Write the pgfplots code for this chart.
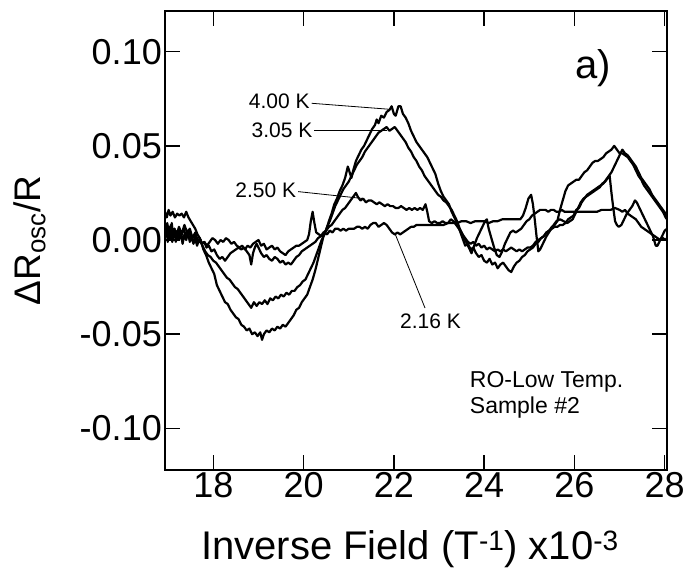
\documentclass[border=0pt]{standalone}
\usepackage{fontspec}
\setmainfont{Liberation Sans}
\usepackage{pgfplots}
\pgfplotsset{compat=1.18}
\begin{document}
\begin{tikzpicture}
\begin{axis}[
 at={(0pt,0pt)}, anchor=south west,
 width=502pt, height=459pt, scale only axis,
 xmin=16.93, xmax=28.05, ymin=-0.1221, ymax=0.1216,
 xtick={18,20,...,28}, ytick={-0.1,-0.05,0,0.05,0.1},
 minor tick num=0,
 tick align=inside, major tick length=15pt,
 axis line style={line width=1.5pt},
 every tick/.style={black, line width=1.5pt},
 xticklabel style={font=\fontsize{36}{38}\selectfont, inner sep=2pt},
 yticklabel style={font=\fontsize{36}{38}\selectfont, inner sep=3pt, /pgf/number format/.cd, fixed, fixed zerofill, precision=2},
 /pgf/number format/assume math mode=true,
 scaled y ticks=false,
 xlabel={Inverse Field (T\textsuperscript{-1}) x10\textsuperscript{-3}},
 ylabel={ΔR\textsubscript{osc}/R},
 every axis x label/.style={at={(axis description cs:0.488,-0.172)}, anchor=center, font=\fontsize{40}{42}\selectfont},
 every axis y label/.style={at={(axis description cs:-0.27,0.5)}, anchor=center, rotate=90, font=\fontsize{37}{39}\selectfont},
]
% 4.00 K
\addplot[black, no marks, line width=2.2pt, line join=round] table {
16.93 0.004
16.98 0.009
17.02 0.003
17.06 0.008
17.10 0.001
17.14 0.006
17.18 0.002
17.24 0.007
17.30 0.003
17.36 0.008
17.42 0.004
17.48 0.006
17.54 0.001
17.60 0.004
17.66 -0.001
17.72 0.000
17.78 -0.005
17.84 -0.008
17.90 -0.012
17.96 -0.015
18.02 -0.018
18.08 -0.024
18.14 -0.027
18.20 -0.030
18.26 -0.033
18.32 -0.034
18.38 -0.037
18.44 -0.039
18.50 -0.041
18.56 -0.042
18.62 -0.045
18.68 -0.046
18.74 -0.048
18.80 -0.047
18.86 -0.050
18.92 -0.049
18.98 -0.051
19.04 -0.049
19.08 -0.053
19.12 -0.050
19.18 -0.048
19.24 -0.049
19.30 -0.047
19.36 -0.048
19.42 -0.046
19.48 -0.047
19.54 -0.045
19.60 -0.046
19.66 -0.044
19.72 -0.042
19.78 -0.040
19.84 -0.037
19.90 -0.036
19.96 -0.033
20.02 -0.031
20.08 -0.029
20.14 -0.025
20.20 -0.021
20.26 -0.016
20.32 -0.010
20.38 -0.004
20.44 0.002
20.50 0.005
20.56 0.010
20.62 0.014
20.68 0.019
20.74 0.022
20.80 0.026
20.86 0.029
20.92 0.033
20.98 0.039
21.02 0.036
21.06 0.033
21.10 0.037
21.16 0.042
21.22 0.045
21.28 0.048
21.34 0.050
21.40 0.053
21.46 0.056
21.52 0.059
21.58 0.061
21.62 0.064
21.66 0.062
21.72 0.066
21.78 0.065
21.84 0.068
21.90 0.069
21.95 0.071
22.00 0.067
22.04 0.066
22.10 0.071
22.15 0.071
22.20 0.067
22.26 0.065
22.32 0.062
22.38 0.058
22.44 0.055
22.50 0.052
22.56 0.050
22.62 0.048
22.68 0.046
22.74 0.044
22.80 0.041
22.86 0.038
22.92 0.035
22.98 0.030
23.04 0.026
23.10 0.023
23.16 0.021
23.22 0.019
23.28 0.015
23.34 0.012
23.40 0.009
23.46 0.005
23.52 0.001
23.58 -0.003
23.64 -0.002
23.70 -0.005
23.76 -0.004
23.82 -0.007
23.88 -0.009
23.94 -0.008
24.00 -0.011
24.06 -0.012
24.12 -0.010
24.18 -0.013
24.24 -0.012
24.30 -0.015
24.36 -0.013
24.42 -0.012
24.48 -0.014
24.54 -0.016
24.60 -0.017
24.66 -0.014
24.72 -0.012
24.78 -0.011
24.84 -0.009
24.90 -0.008
24.96 -0.006
25.02 -0.005
25.08 -0.004
25.14 -0.002
25.20 -0.001
25.26 0.001
25.32 0.002
25.38 0.004
25.44 0.005
25.50 0.007
25.56 0.008
25.62 0.010
25.68 0.016
25.74 0.021
25.80 0.026
25.86 0.029
25.92 0.030
25.98 0.031
26.04 0.032
26.10 0.032
26.16 0.034
26.22 0.036
26.28 0.037
26.34 0.039
26.40 0.041
26.46 0.042
26.52 0.042
26.58 0.043
26.64 0.044
26.70 0.046
26.76 0.047
26.82 0.048
26.88 0.050
26.94 0.048
27.00 0.046
27.06 0.046
27.12 0.045
27.18 0.044
27.24 0.042
27.30 0.040
27.36 0.037
27.42 0.034
27.48 0.032
27.54 0.029
27.60 0.027
27.66 0.025
27.72 0.023
27.78 0.021
27.84 0.019
27.90 0.017
27.96 0.015
28.02 0.012
28.05 0.011
};
% 3.05 K
\addplot[black, no marks, line width=2.2pt, line join=round] table {
16.93 0.002
16.97 0.006
17.01 0.000
17.05 0.005
17.09 -0.001
17.13 0.004
17.18 0.000
17.23 0.005
17.28 0.001
17.34 0.006
17.40 0.002
17.46 0.005
17.52 0.000
17.58 0.003
17.64 -0.002
17.70 0.001
17.76 -0.003
17.82 -0.006
17.88 -0.008
17.94 -0.009
18.00 -0.011
18.06 -0.012
18.12 -0.014
18.18 -0.016
18.24 -0.018
18.30 -0.020
18.36 -0.021
18.42 -0.023
18.48 -0.025
18.54 -0.026
18.60 -0.028
18.66 -0.030
18.72 -0.032
18.78 -0.034
18.84 -0.036
18.90 -0.033
18.96 -0.035
19.02 -0.033
19.08 -0.034
19.14 -0.032
19.20 -0.034
19.26 -0.031
19.32 -0.032
19.38 -0.030
19.44 -0.031
19.50 -0.029
19.56 -0.030
19.62 -0.028
19.68 -0.029
19.74 -0.027
19.80 -0.027
19.86 -0.025
19.92 -0.024
19.98 -0.022
20.04 -0.021
20.10 -0.018
20.16 -0.015
20.22 -0.012
20.28 -0.008
20.34 -0.004
20.40 0.000
20.46 0.003
20.52 0.007
20.58 0.010
20.64 0.014
20.70 0.018
20.76 0.021
20.82 0.024
20.88 0.027
20.94 0.029
21.00 0.031
21.06 0.034
21.12 0.037
21.18 0.040
21.24 0.042
21.30 0.044
21.36 0.047
21.42 0.049
21.48 0.051
21.54 0.053
21.60 0.055
21.66 0.057
21.72 0.058
21.78 0.059
21.84 0.060
21.90 0.058
21.96 0.059
22.02 0.060
22.08 0.058
22.14 0.056
22.20 0.054
22.26 0.052
22.32 0.049
22.38 0.047
22.44 0.044
22.50 0.042
22.56 0.039
22.62 0.037
22.68 0.034
22.74 0.032
22.80 0.030
22.86 0.028
22.92 0.026
22.98 0.024
23.04 0.023
23.10 0.021
23.16 0.020
23.22 0.018
23.28 0.016
23.34 0.013
23.40 0.010
23.46 0.006
23.52 0.003
23.58 0.001
23.64 -0.001
23.70 -0.002
23.76 -0.001
23.82 -0.003
23.88 -0.002
23.94 -0.004
24.00 -0.003
24.06 -0.005
24.12 -0.004
24.18 -0.005
24.24 -0.006
24.30 -0.005
24.36 -0.006
24.42 -0.005
24.48 -0.006
24.54 -0.005
24.60 -0.004
24.66 -0.005
24.72 -0.006
24.78 -0.005
24.84 -0.006
24.90 -0.005
24.96 -0.004
25.02 -0.004
25.08 -0.003
25.14 -0.001
25.20 0.000
25.26 0.001
25.32 0.002
25.38 0.004
25.44 0.005
25.50 0.006
25.56 0.007
25.62 0.007
25.68 0.008
25.74 0.008
25.80 0.009
25.86 0.011
25.92 0.012
25.98 0.013
26.04 0.016
26.10 0.017
26.16 0.020
26.22 0.022
26.28 0.024
26.34 0.025
26.40 0.026
26.46 0.027
26.52 0.028
26.58 0.029
26.64 0.030
26.70 0.032
26.76 0.034
26.82 0.036
26.88 0.039
26.94 0.042
27.00 0.045
27.06 0.048
27.12 0.046
27.18 0.045
27.24 0.043
27.30 0.041
27.36 0.039
27.42 0.036
27.48 0.033
27.54 0.031
27.60 0.029
27.66 0.027
27.72 0.024
27.78 0.022
27.84 0.020
27.90 0.018
27.96 0.016
28.02 0.014
28.05 0.013
};
% 2.50 K
\addplot[black, no marks, line width=2.2pt, line join=round] table {
16.93 0.015
16.97 0.012
17.01 0.016
17.05 0.013
17.10 0.015
17.15 0.012
17.20 0.014
17.25 0.013
17.30 0.014
17.35 0.012
17.40 0.015
17.45 0.012
17.50 0.010
17.55 0.008
17.60 0.006
17.65 0.003
17.70 0.001
17.75 -0.002
17.80 -0.001
17.85 -0.004
17.90 -0.003
17.96 -0.006
18.02 -0.005
18.08 -0.008
18.14 -0.010
18.20 -0.009
18.26 -0.011
18.32 -0.009
18.38 -0.007
18.44 -0.006
18.50 -0.005
18.56 -0.004
18.62 -0.005
18.68 -0.004
18.74 -0.006
18.80 -0.008
18.84 -0.013
18.88 -0.007
18.92 -0.004
18.96 -0.002
19.00 -0.004
19.06 -0.007
19.12 -0.009
19.18 -0.008
19.24 -0.010
19.30 -0.011
19.36 -0.009
19.42 -0.010
19.48 -0.012
19.54 -0.011
19.60 -0.013
19.66 -0.012
19.72 -0.013
19.78 -0.011
19.84 -0.009
19.90 -0.008
19.96 -0.006
20.02 -0.005
20.08 -0.004
20.14 -0.003
20.20 -0.002
20.26 -0.001
20.32 0.001
20.38 0.002
20.44 0.004
20.50 0.005
20.56 0.007
20.62 0.008
20.68 0.010
20.74 0.012
20.80 0.014
20.86 0.016
20.92 0.017
20.98 0.019
21.04 0.021
21.10 0.023
21.16 0.025
21.20 0.023
21.26 0.021
21.32 0.022
21.38 0.020
21.44 0.021
21.50 0.021
21.56 0.020
21.62 0.019
21.68 0.020
21.74 0.019
21.80 0.018
21.86 0.019
21.92 0.018
21.98 0.018
22.04 0.017
22.10 0.017
22.16 0.018
22.22 0.017
22.28 0.016
22.34 0.017
22.40 0.016
22.46 0.017
22.52 0.016
22.58 0.017
22.64 0.016
22.70 0.019
22.74 0.015
22.78 0.010
22.84 0.009
22.90 0.010
22.96 0.009
23.02 0.009
23.08 0.010
23.14 0.009
23.20 0.009
23.26 0.011
23.32 0.010
23.38 0.008
23.44 0.006
23.50 0.004
23.56 0.001
23.62 -0.002
23.68 -0.005
23.72 -0.007
23.78 -0.003
23.84 0.001
23.90 0.004
23.96 0.007
24.02 0.010
24.06 0.011
24.10 0.006
24.16 0.001
24.22 -0.004
24.28 -0.008
24.34 -0.009
24.40 -0.006
24.46 -0.002
24.52 0.001
24.58 0.004
24.64 0.005
24.70 0.004
24.76 0.005
24.82 0.006
24.88 0.008
24.94 0.010
25.00 0.011
25.06 0.013
25.12 0.014
25.18 0.015
25.24 0.016
25.30 0.016
25.36 0.016
25.42 0.015
25.48 0.016
25.54 0.016
25.60 0.015
25.66 0.015
25.72 0.016
25.78 0.015
25.84 0.015
25.90 0.015
25.96 0.015
26.02 0.015
26.10 0.015
26.20 0.015
26.30 0.015
26.40 0.015
26.50 0.015
26.60 0.016
26.70 0.016
26.80 0.016
26.90 0.017
27.00 0.016
27.06 0.015
27.12 0.016
27.18 0.014
27.24 0.013
27.30 0.012
27.36 0.011
27.42 0.009
27.48 0.007
27.54 0.006
27.60 0.005
27.66 0.004
27.72 0.003
27.78 0.002
27.84 0.001
27.90 0.000
27.96 0.001
28.02 0.000
28.05 0.001
};
% 2.16 K
\addplot[black, no marks, line width=2.2pt, line join=round] table {
16.93 0.003
16.96 0.008
16.99 -0.001
17.02 0.007
17.05 0.001
17.08 0.009
17.11 0.002
17.14 0.006
17.17 -0.001
17.20 0.005
17.24 0.000
17.28 0.004
17.32 -0.002
17.36 0.003
17.40 0.000
17.44 0.004
17.48 -0.001
17.52 0.002
17.56 -0.002
17.60 0.001
17.64 -0.003
17.68 0.000
17.74 -0.002
17.80 -0.001
17.86 -0.003
17.92 -0.001
17.98 0.001
18.04 0.000
18.10 -0.002
18.16 0.000
18.22 -0.001
18.28 0.001
18.34 0.000
18.40 -0.002
18.46 -0.001
18.52 -0.003
18.58 -0.004
18.64 -0.003
18.70 -0.005
18.76 -0.003
18.82 -0.004
18.88 -0.002
18.94 -0.001
19.00 0.000
19.06 -0.003
19.12 -0.002
19.18 -0.005
19.24 -0.004
19.30 -0.003
19.36 -0.005
19.42 -0.004
19.48 -0.006
19.54 -0.007
19.60 -0.008
19.66 -0.006
19.72 -0.005
19.78 -0.004
19.84 -0.003
19.90 -0.003
19.96 -0.002
20.02 -0.001
20.08 0.000
20.12 0.003
20.16 0.010
20.20 0.015
20.24 0.009
20.28 0.004
20.34 0.003
20.40 0.002
20.46 0.004
20.52 0.003
20.58 0.005
20.64 0.004
20.70 0.006
20.76 0.006
20.82 0.005
20.88 0.006
20.94 0.005
21.00 0.006
21.06 0.006
21.12 0.006
21.18 0.007
21.24 0.007
21.30 0.006
21.36 0.007
21.42 0.006
21.48 0.008
21.54 0.009
21.60 0.009
21.66 0.007
21.72 0.008
21.78 0.009
21.84 0.008
21.90 0.006
21.96 0.004
22.02 0.003
22.08 0.004
22.14 0.003
22.20 0.004
22.26 0.005
22.32 0.006
22.38 0.007
22.44 0.007
22.50 0.008
22.60 0.008
22.70 0.008
22.80 0.008
22.90 0.008
23.00 0.008
23.10 0.008
23.20 0.009
23.30 0.009
23.40 0.009
23.50 0.010
23.60 0.010
23.70 0.009
23.80 0.010
23.90 0.010
24.00 0.010
24.10 0.009
24.20 0.010
24.30 0.010
24.40 0.011
24.50 0.011
24.60 0.011
24.70 0.011
24.80 0.011
24.86 0.013
24.92 0.017
24.98 0.022
25.04 0.024
25.08 0.019
25.12 0.011
25.16 0.002
25.20 -0.006
25.24 -0.005
25.30 -0.002
25.38 0.002
25.46 0.005
25.54 0.008
25.60 0.010
25.68 0.011
25.76 0.010
25.84 0.009
25.90 0.010
25.96 0.011
26.02 0.014
26.08 0.017
26.14 0.020
26.20 0.022
26.26 0.023
26.32 0.024
26.38 0.025
26.44 0.026
26.50 0.027
26.56 0.028
26.62 0.030
26.68 0.031
26.74 0.033
26.78 0.034
26.82 0.025
26.86 0.017
26.90 0.010
26.94 0.008
26.98 0.007
27.04 0.008
27.10 0.011
27.16 0.014
27.22 0.016
27.28 0.018
27.34 0.021
27.38 0.020
27.44 0.017
27.50 0.014
27.56 0.011
27.62 0.008
27.68 0.005
27.74 0.002
27.80 -0.003
27.84 -0.003
27.88 -0.001
27.94 0.002
28.00 0.005
28.05 0.006
};
% annotations
\draw[line width=0.8pt] (axis cs:20.18,0.0726) -- (axis cs:21.91,0.0694);
\draw[line width=0.8pt] (axis cs:20.24,0.0584) -- (axis cs:21.84,0.0584);
\draw[line width=0.8pt] (axis cs:19.88,0.0257) -- (axis cs:21.29,0.0221);
\draw[line width=0.8pt] (axis cs:22.69,-0.0361) -- (axis cs:22.02,0.0037);
\node[anchor=east, font=\fontsize{21}{23}\selectfont, inner sep=1pt] at (axis cs:20.16,0.0738) {4.00 K};
\node[anchor=east, font=\fontsize{21}{23}\selectfont, inner sep=1pt] at (axis cs:20.22,0.0584) {3.05 K};
\node[anchor=east, font=\fontsize{21}{23}\selectfont, inner sep=1pt] at (axis cs:19.86,0.0266) {2.50 K};
\node[anchor=east, font=\fontsize{21}{23}\selectfont, inner sep=1pt] at (axis cs:23.51,-0.0434) {2.16 K};
\node[font=\fontsize{40}{42}\selectfont] at (axis cs:26.41,0.0915) {a)};
\node[anchor=north west, align=left, font=\fontsize{23}{26}\selectfont, inner sep=0pt] at (axis cs:23.68,-0.0695) {RO-Low Temp.\\Sample \#2};
\end{axis}
\pgfresetboundingbox
\path (-165pt,-108pt) rectangle (526pt,470pt);
\end{tikzpicture}
\end{document}
